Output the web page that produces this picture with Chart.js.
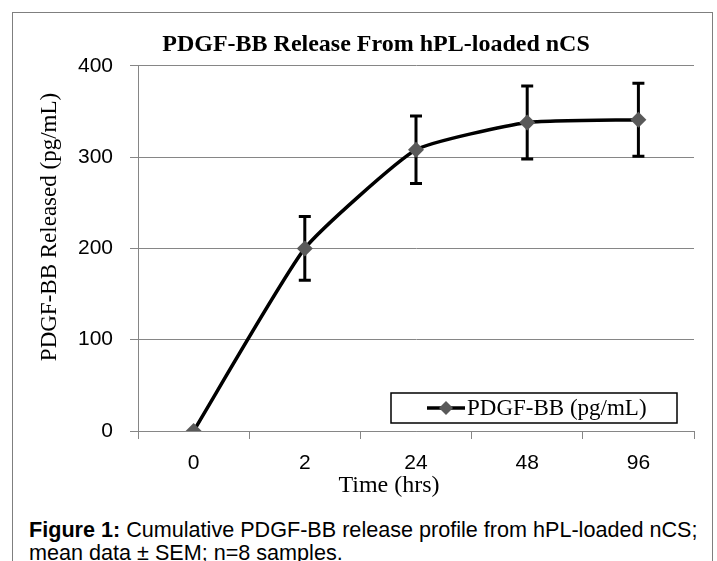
<!DOCTYPE html>
<html><head><meta charset="utf-8">
<script src="https://cdn.jsdelivr.net/npm/chart.js@4/dist/chart.umd.min.js"></script>
<style>
html,body{margin:0;padding:0;background:#fff;width:717px;height:561px;overflow:hidden}
#frame{position:absolute;left:12px;top:12px;width:701px;height:600px;border:1.5px solid #7f7f7f;box-sizing:border-box}
#wrap{position:absolute;left:0;top:0;width:717px;height:500px}
#cap{position:absolute;left:29px;top:518px;font-family:"Liberation Sans",Arial,sans-serif;font-size:21.6px;line-height:23px;color:#000;white-space:nowrap}
</style></head>
<body>
<div id="frame"></div>
<div id="wrap"><canvas id="c" width="717" height="500"></canvas></div>
<div id="cap"><b>Figure 1:</b> Cumulative PDGF-BB release profile from hPL-loaded nCS;<br>mean data ± SEM; n=8 samples.</div>
<script>
const categories = ['0', '2', '24', '48', '96'];
const releaseMean = [0, 200, 308, 338, 341];
const releaseSem = [0, 35, 37, 40, 40];
const seriesLabel = 'PDGF-BB (pg/mL)';
const chartTitle = 'PDGF-BB Release From hPL-loaded nCS';
const xTitle = 'Time (hrs)';
const yTitle = 'PDGF-BB Released (pg/mL)';
const yMin = 0, yMax = 400, yStep = 100;

const GRID = '#868686';
const SERIF = '"Liberation Serif","Times New Roman",serif';
const SANS = '"Liberation Sans",Arial,sans-serif';

const errorBars = {
  id: 'errorBars',
  beforeDatasetsDraw(chart) {
    const ctx = chart.ctx, meta = chart.getDatasetMeta(0), ys = chart.scales.y;
    ctx.save();
    ctx.strokeStyle = '#000';
    ctx.lineWidth = 3;
    meta.data.forEach((pt, i) => {
      const e = releaseSem[i];
      if (!e) return;
      const v = releaseMean[i];
      const t = ys.getPixelForValue(v + e), b = ys.getPixelForValue(v - e);
      ctx.beginPath();
      ctx.moveTo(pt.x, t); ctx.lineTo(pt.x, b);
      ctx.moveTo(pt.x - 6, t); ctx.lineTo(pt.x + 6, t);
      ctx.moveTo(pt.x - 6, b); ctx.lineTo(pt.x + 6, b);
      ctx.stroke();
    });
    ctx.restore();
  }
};

const texts = {
  id: 'texts',
  afterDraw(chart) {
    const ctx = chart.ctx, a = chart.chartArea;
    ctx.save();
    ctx.fillStyle = '#000';
    ctx.font = '23px ' + SERIF;
    ctx.textAlign = 'center';
    ctx.textBaseline = 'middle';
    ctx.translate(50, 227);
    ctx.rotate(-Math.PI / 2);
    ctx.fillText(yTitle, 0, 0);
    ctx.restore();

    ctx.save();
    ctx.fillStyle = '#000';
    ctx.font = '24px ' + SERIF;
    ctx.textAlign = 'center';
    ctx.textBaseline = 'middle';
    ctx.fillText(xTitle, 389, 486);
    ctx.restore();

    ctx.save();
    const L = a.right - 17 - 286, T = a.bottom - 8 - 30;
    ctx.fillStyle = '#fff';
    ctx.fillRect(L, T, 286, 30);
    ctx.strokeStyle = '#000';
    ctx.lineWidth = 1.5;
    ctx.strokeRect(L, T, 286, 30);
    const cy = T + 15;
    ctx.strokeStyle = '#000';
    ctx.lineWidth = 3.5;
    ctx.beginPath(); ctx.moveTo(L + 36, cy); ctx.lineTo(L + 74, cy); ctx.stroke();
    ctx.fillStyle = '#595959';
    ctx.beginPath();
    ctx.moveTo(L + 55, cy - 7); ctx.lineTo(L + 62, cy); ctx.lineTo(L + 55, cy + 7); ctx.lineTo(L + 48, cy);
    ctx.closePath(); ctx.fill();
    ctx.fillStyle = '#000';
    ctx.font = '23px ' + SERIF;
    ctx.textAlign = 'left';
    ctx.textBaseline = 'middle';
    ctx.fillText(chart.data.datasets[0].label, L + 76, cy + 1);
    ctx.restore();
  }
};

new Chart(document.getElementById('c'), {
  type: 'line',
  data: {
    labels: categories,
    datasets: [{
      label: seriesLabel,
      data: releaseMean,
      borderColor: '#000',
      borderWidth: 3.5,
      tension: 0.15,
      pointStyle: 'rectRot',
      pointRadius: 8,
      pointHoverRadius: 8,
      pointBackgroundColor: '#595959',
      pointBorderColor: '#595959',
      pointBorderWidth: 0,
      fill: false
    }]
  },
  options: {
    responsive: false,
    animation: false,
    devicePixelRatio: 1,
    layout: { padding: { top: 15, left: 58, right: 23, bottom: 0 } },
    plugins: {
      legend: { display: false },
      tooltip: { enabled: false },
      title: {
        display: true,
        text: chartTitle,
        color: '#000',
        font: { family: SERIF, size: 24, weight: 'bold' },
        padding: { top: 15, bottom: 7 }
      }
    },
    scales: {
      x: {
        offset: true,
        grid: { offset: true, drawOnChartArea: false, color: GRID, tickLength: 8, lineWidth: 1 },
        border: { color: GRID },
        ticks: { color: '#000', font: { family: SANS, size: 21 }, padding: 12 },
        afterFit(s) { s.height = 69; }
      },
      y: {
        min: yMin, max: yMax,
        ticks: { stepSize: yStep, color: '#000', font: { family: SANS, size: 21 }, padding: 17 },
        grid: { color: GRID, tickLength: 8, lineWidth: 1 },
        border: { color: GRID },
        afterFit(s) { s.width = 80; }
      }
    }
  },
  plugins: [errorBars, texts]
});
</script>
</body></html>
